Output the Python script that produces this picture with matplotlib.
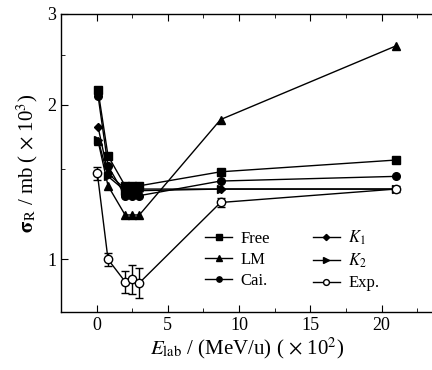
import matplotlib
matplotlib.use("Agg")
import matplotlib.pyplot as plt
from matplotlib.ticker import FixedLocator, FixedFormatter, NullFormatter, MultipleLocator

plt.rcParams["font.family"] = ["Liberation Serif", "DejaVu Serif"]
plt.rcParams["mathtext.fontset"] = "stix"

# energies (x 10^2 MeV/u)
x_calc = [0.1, 0.8, 2.0, 2.5, 3.0, 8.7, 21.0]
x_exp = [0.05, 0.8, 2.0, 2.5, 3.0, 8.7, 21.0]

# reaction cross sections (x 10^3 mb)
free = [2.13, 1.59, 1.39, 1.39, 1.39, 1.48, 1.56]
lm = [1.70, 1.39, 1.22, 1.22, 1.22, 1.87, 2.60]
cai = [2.08, 1.52, 1.33, 1.33, 1.33, 1.42, 1.45]
k1 = [1.81, 1.47, 1.37, 1.37, 1.37, 1.37, 1.37]
k2 = [1.71, 1.45, 1.36, 1.36, 1.36, 1.37, 1.37]
exp_val = [1.47, 1.00, 0.905, 0.915, 0.90, 1.29, 1.37]
exp_err = [0.045, 0.03, 0.045, 0.06, 0.06, 0.025, 0.02]

fig = plt.figure(figsize=(4.32, 3.70), dpi=100)
ax = fig.add_axes([61 / 432, 1 - 312 / 370, 1 - 61 / 432 + 0.002, (312 - 14) / 370])

ms = 5.5
ax.plot(x_calc, free, "-s", color="black", lw=1, ms=ms, label="Free")
ax.plot(x_calc, lm, "-^", color="black", lw=1, ms=ms + 0.5, label="LM")
ax.plot(x_calc, cai, "-o", color="black", lw=1, ms=ms, label="Cai.")
ax.plot(x_calc, k1, "-D", color="black", lw=1, ms=ms - 1, label="$K_1$")
ax.plot(x_calc, k2, "->", color="black", lw=1, ms=ms, label="$K_2$")
ax.errorbar(x_exp, exp_val, yerr=exp_err, fmt="none", ecolor="black",
            capsize=3, elinewidth=1, zorder=2)
ax.plot(x_exp, exp_val, "-o", color="black", lw=1, ms=ms + 0.5, mfc="white",
        label="Exp.", zorder=3)

ax.set_yscale("log")
ax.set_ylim(0.79, 3.0)
ax.set_xlim(-2.5, 23.6)
ax.yaxis.set_major_locator(FixedLocator([1, 2, 3]))
ax.yaxis.set_major_formatter(FixedFormatter(["1", "2", "3"]))
ax.yaxis.set_minor_locator(FixedLocator([1.5, 2.5]))
ax.yaxis.set_minor_formatter(NullFormatter())
ax.xaxis.set_major_locator(MultipleLocator(5))
ax.xaxis.set_minor_locator(MultipleLocator(2.5))

ax.tick_params(which="both", direction="in", top=True, right=False, labelsize=13)
ax.tick_params(which="major", length=5)
ax.tick_params(which="minor", length=3)
for s in ax.spines.values():
    s.set_linewidth(1.0)

ax.set_xlabel(r"$E_{\rm lab}$ / (MeV/u) ( $\times$ 10$^2$)", fontsize=15, labelpad=1)
ax.set_ylabel(r"$\mathbf{\sigma}_{\rm R}$ / mb ( $\times$ 10$^3$)", fontsize=15, labelpad=5)

ax.legend(ncol=2, loc="upper left", bbox_to_anchor=(0.388, 0.28), frameon=False,
          fontsize=12, handlelength=1.6, handletextpad=0.5, columnspacing=2.6,
          labelspacing=0.3, markerscale=0.7, borderpad=0, borderaxespad=0)

fig.savefig("out.png", dpi=100)
